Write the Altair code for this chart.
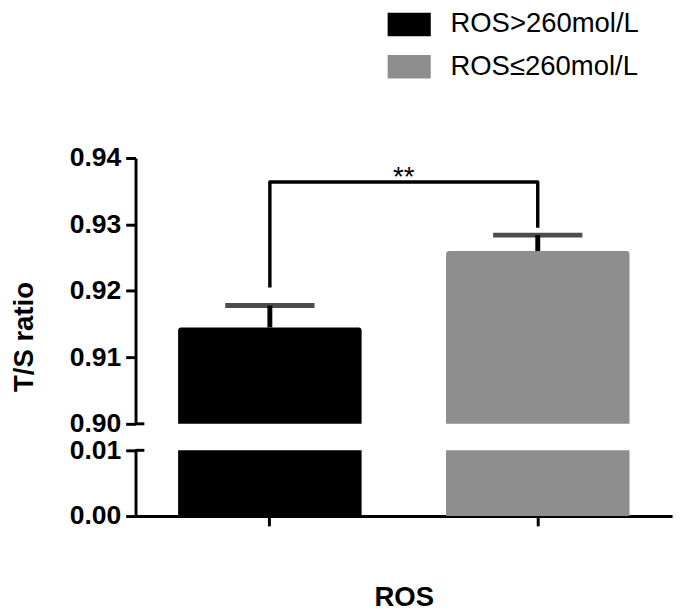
import altair as alt
import pandas as pd

# ---- data ----
groups = ["ROS>260mol/L", "ROS≤260mol/L"]
means = [0.9145, 0.9260]
sems = [0.0033, 0.0024]
colors = ["#000000", "#8e8e8e"]

bracket_groups = [groups[0], groups[0], groups[1], groups[1]]
bracket_y = [0.9205, 0.9364, 0.9364, 0.9295]
bracket_order = [0, 1, 2, 3]
sig_label = ["**"]
sig_y = [0.9358]

upper_ticks = [0.90, 0.91, 0.92, 0.93, 0.94]
lower_ticks = [0.00, 0.01]
upper_domain = [0.90, 0.94]
lower_domain = [0.00, 0.01]

y_title = "T/S ratio"
x_title = "ROS"

# ---- tables ----
df = pd.DataFrame({"group": groups, "mean": means, "sem": sems})
df["upper"] = df["mean"] + df["sem"]
df["base"] = upper_domain[0]
br = pd.DataFrame({"group": bracket_groups, "y": bracket_y, "order": bracket_order})
sig = pd.DataFrame({"label": sig_label, "y": sig_y})
brk_up = pd.DataFrame({"y": [upper_domain[0]]})
brk_lo = pd.DataFrame({"y": [lower_domain[1]]})

W = 547
H_UP = 271
H_LO = 67
FONT = "Liberation Sans"

x_scale = alt.Scale(domain=groups, paddingInner=0.315, paddingOuter=0.159)
color_scale = alt.Scale(domain=groups, range=colors)
yu = alt.Scale(domain=upper_domain, nice=False, zero=False)
yl = alt.Scale(domain=lower_domain, nice=False)

xu = alt.X("group:N", scale=x_scale, sort=groups, axis=None)

bars_u = alt.Chart(df).mark_bar(cornerRadiusTopLeft=3, cornerRadiusTopRight=3).encode(
    x=xu,
    y=alt.Y("mean:Q", scale=yu,
            axis=alt.Axis(values=upper_ticks, format=".2f", title=y_title,
                          titleX=-105, titleY=182, titleAngle=270,
                          titleAlign="center", titleBaseline="alphabetic")),
    y2="base:Q",
    color=alt.Color("group:N", scale=color_scale, sort=groups,
                    legend=alt.Legend(title=None, orient="none", legendX=265, legendY=-150)),
)
stem_u = alt.Chart(df).mark_rule(strokeWidth=5, color="black").encode(
    x=xu, y=alt.Y("mean:Q", scale=yu), y2="upper:Q")
cap_u = alt.Chart(df).mark_tick(size=91, thickness=5, color="black").encode(
    x=xu, y=alt.Y("upper:Q", scale=yu))
bracket = alt.Chart(br).mark_line(strokeWidth=3.5, color="black", strokeJoin="round").encode(
    x=xu, y=alt.Y("y:Q", scale=yu), order="order:Q")
sig_text = alt.Chart(sig).mark_text(fontSize=28, font=FONT, baseline="alphabetic",
                                    align="center", color="black").encode(
    x=alt.value(W / 2), y=alt.Y("y:Q", scale=yu), text="label:N")
brk_u = alt.Chart(brk_up).mark_rule(strokeWidth=3, color="black").encode(
    x=alt.value(0), x2=alt.value(9), y=alt.Y("y:Q", scale=yu))

upper = alt.layer(bars_u, stem_u, cap_u, bracket, sig_text, brk_u).properties(width=W, height=H_UP)

bars_l = alt.Chart(df).mark_bar(clip=True).encode(
    x=alt.X("group:N", scale=x_scale, sort=groups,
            axis=alt.Axis(labels=False, title=x_title, titleY=91,
                          titleBaseline="alphabetic")),
    y=alt.Y("mean:Q", scale=yl,
            axis=alt.Axis(values=lower_ticks, format=".2f", title=None)),
    color=alt.Color("group:N", scale=color_scale, sort=groups, legend=None),
)
brk_l = alt.Chart(brk_lo).mark_rule(strokeWidth=3, color="black").encode(
    x=alt.value(0), x2=alt.value(9), y=alt.Y("y:Q", scale=yl))
lower = alt.layer(bars_l, brk_l).properties(width=W, height=H_LO)

chart = alt.vconcat(upper, lower, spacing=27, bounds="flush").configure_axis(
    domainWidth=3, domainColor="black", tickWidth=3, tickColor="black", tickSize=10,
    labelFont=FONT, labelFontSize=27, labelFontWeight="bold", labelColor="black",
    labelPadding=5, titleFont=FONT, titleFontSize=28, titleFontWeight="bold",
    titleColor="black", grid=False,
).configure_legend(
    symbolType="M-1.833,-1H1.833V1H-1.833Z", symbolSize=576, symbolStrokeWidth=0,
    symbolOpacity=1, labelFont=FONT, labelFontSize=28, labelColor="black",
    labelOffset=28, rowPadding=15, padding=0, labelLimit=400,
).configure_view(stroke=None).properties(
    padding={"left": 3, "top": -3, "right": 5, "bottom": 0}
)

chart.save("out.html", embed_options={"renderer": "svg", "actions": False})
